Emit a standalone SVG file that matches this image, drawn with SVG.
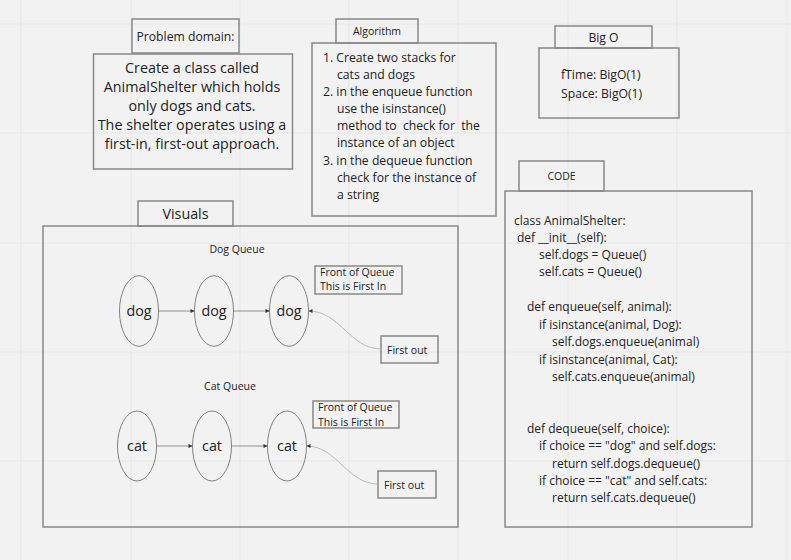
<svg xmlns="http://www.w3.org/2000/svg" width="791" height="560" viewBox="0 0 791 560">
<style>
text{font-family:"Open Sans","Noto Sans","Liberation Sans",sans-serif;fill:#222;white-space:pre;}
.box{fill:none;stroke:#888;stroke-width:1.5;}
.grid{stroke:#e6e6e6;stroke-width:1;}
.ell{fill:none;stroke:#666;stroke-width:0.8;}
.edge{fill:none;stroke:#777;stroke-width:0.8;}
.curve{fill:none;stroke:#bbb;stroke-width:1;}
.t15{font-size:14.3px;}
.t13{font-size:12.2px;}
.t11{font-size:10.5px;}
.code{font-size:12px;}
.mid{text-anchor:middle;}
</style>
<defs>
<marker id="ah" markerWidth="6" markerHeight="6" refX="5" refY="3" orient="auto" markerUnits="userSpaceOnUse">
<path d="M1,1 L5,3 L1,5 Z" fill="#333"/>
</marker>
</defs>
<rect x="0" y="0" width="791" height="560" fill="#f2f2f2"/>
<g id="grid">
<line class="grid" x1="21" y1="0" x2="21" y2="560"/>
<line class="grid" x1="131" y1="0" x2="131" y2="560"/>
<line class="grid" x1="240" y1="0" x2="240" y2="560"/>
<line class="grid" x1="349" y1="0" x2="349" y2="560"/>
<line class="grid" x1="458" y1="0" x2="458" y2="560"/>
<line class="grid" x1="568" y1="0" x2="568" y2="560"/>
<line class="grid" x1="677" y1="0" x2="677" y2="560"/>
<line class="grid" x1="787" y1="0" x2="787" y2="560"/>
<line class="grid" x1="0" y1="24" x2="791" y2="24"/>
<line class="grid" x1="0" y1="133" x2="791" y2="133"/>
<line class="grid" x1="0" y1="243" x2="791" y2="243"/>
<line class="grid" x1="0" y1="352" x2="791" y2="352"/>
<line class="grid" x1="0" y1="461" x2="791" y2="461"/>
</g>

<g id="problem-domain-header">
<rect class="box" x="132" y="19" width="107" height="34"/>
<text class="t13 mid" x="185.5" y="40.5">Problem domain:</text>
</g>
<g id="problem-domain">
<rect class="box" x="93.5" y="54" width="199" height="115"/>
<text class="t15 mid" x="192" y="73">Create a class called</text>
<text class="t15 mid" x="192" y="92">AnimalShelter which holds</text>
<text class="t15 mid" x="192" y="111">only dogs and cats.</text>
<text class="t15 mid" x="192" y="130">The shelter operates using a</text>
<text class="t15 mid" x="192" y="149">first-in, first-out approach.</text>
</g>

<g id="algorithm-header">
<rect class="box" x="336" y="19" width="82" height="24"/>
<text class="t11 mid" x="377" y="35">Algorithm</text>
</g>
<g id="algorithm">
<rect class="box" x="312" y="43" width="184" height="173"/>
<text class="t13" x="323" y="61.5">1. Create two stacks for</text>
<text class="t13" x="337" y="78.5">cats and dogs</text>
<text class="t13" x="323" y="96">2. in the enqueue function</text>
<text class="t13" x="337" y="113">use the isinstance()</text>
<text class="t13" x="337" y="130" xml:space="preserve">method to  check for  the</text>
<text class="t13" x="337" y="147">instance of an object</text>
<text class="t13" x="323" y="164.5">3. in the dequeue function</text>
<text class="t13" x="337" y="181.5">check for the instance of</text>
<text class="t13" x="337" y="198.5">a string</text>
</g>

<g id="bigo-header">
<rect class="box" x="555" y="26" width="97" height="22"/>
<text class="t13 mid" x="603.5" y="42">Big O</text>
</g>
<g id="bigo">
<rect class="box" x="539" y="48" width="140" height="70"/>
<text class="t13" x="561" y="79">fTime: BigO(1)</text>
<text class="t13" x="561" y="98">Space: BigO(1)</text>
</g>

<g id="code-header">
<rect class="box" x="519" y="161" width="85" height="30"/>
<text class="t11 mid" x="561.5" y="180">CODE</text>
</g>
<g id="code">
<rect class="box" x="505" y="191" width="247" height="336"/>
<text class="code" x="514" y="225">class AnimalShelter:</text>
<text class="code" x="517" y="242">def __init__(self):</text>
<text class="code" x="539" y="259">self.dogs = Queue()</text>
<text class="code" x="539" y="276">self.cats = Queue()</text>
<text class="code" x="527" y="311">def enqueue(self, animal):</text>
<text class="code" x="539" y="329">if isinstance(animal, Dog):</text>
<text class="code" x="552" y="346">self.dogs.enqueue(animal)</text>
<text class="code" x="539" y="364">if isinstance(animal, Cat):</text>
<text class="code" x="552" y="381">self.cats.enqueue(animal)</text>
<text class="code" x="527" y="433">def dequeue(self, choice):</text>
<text class="code" x="539" y="450">if choice == "dog" and self.dogs:</text>
<text class="code" x="552" y="468">return self.dogs.dequeue()</text>
<text class="code" x="539" y="485">if choice == "cat" and self.cats:</text>
<text class="code" x="552" y="502">return self.cats.dequeue()</text>
</g>

<g id="visuals-header">
<rect class="box" x="138" y="201" width="95" height="25"/>
<text class="t15 mid" x="185.5" y="218.5">Visuals</text>
</g>
<g id="visuals">
<rect class="box" x="43" y="226" width="415" height="301"/>
<text class="t11 mid" x="237" y="253">Dog Queue</text>
<text class="t11 mid" x="230" y="390">Cat Queue</text>
</g>

<g id="dog1"><ellipse class="ell" cx="139" cy="311" rx="19.5" ry="35.3"/><text class="t15 mid" x="139" y="316">dog</text></g>
<g id="dog2"><ellipse class="ell" cx="214" cy="311" rx="19.5" ry="35.3"/><text class="t15 mid" x="214" y="316">dog</text></g>
<g id="dog3"><ellipse class="ell" cx="289" cy="311" rx="19.5" ry="35.3"/><text class="t15 mid" x="289" y="316">dog</text></g>
<g id="dog-front">
<rect class="box" x="315" y="266" width="87" height="28"/>
<text class="t11" x="320" y="276">Front of Queue</text>
<text class="t11" x="320" y="290">This is First In</text>
</g>
<g id="dog-first-out">
<rect class="box" x="381" y="336" width="57" height="27"/>
<text class="t11" x="387" y="354">First out</text>
</g>

<g id="cat1"><ellipse class="ell" cx="137" cy="446" rx="19.5" ry="35"/><text class="t15 mid" x="137" y="451">cat</text></g>
<g id="cat2"><ellipse class="ell" cx="212" cy="446" rx="19.5" ry="35"/><text class="t15 mid" x="212" y="451">cat</text></g>
<g id="cat3"><ellipse class="ell" cx="287" cy="446" rx="19.5" ry="35"/><text class="t15 mid" x="287" y="451">cat</text></g>
<g id="cat-front">
<rect class="box" x="313" y="401" width="86" height="27"/>
<text class="t11" x="318" y="410.5">Front of Queue</text>
<text class="t11" x="318" y="425.5">This is First In</text>
</g>
<g id="cat-first-out">
<rect class="box" x="378" y="471" width="58" height="27"/>
<text class="t11" x="384" y="489">First out</text>
</g>

<g id="connectors">
<line class="edge" x1="158.5" y1="311" x2="194.5" y2="311" marker-end="url(#ah)"/>
<line class="edge" x1="233.5" y1="311" x2="269.5" y2="311" marker-end="url(#ah)"/>
<path class="curve" d="M381,349 C350,349 340,311 308.5,311" marker-end="url(#ah)"/>
<line class="edge" x1="156.5" y1="446" x2="192.5" y2="446" marker-end="url(#ah)"/>
<line class="edge" x1="231.5" y1="446" x2="267.5" y2="446" marker-end="url(#ah)"/>
<path class="curve" d="M378,484 C347,484 337,446 306.5,446" marker-end="url(#ah)"/>
</g>
</svg>
